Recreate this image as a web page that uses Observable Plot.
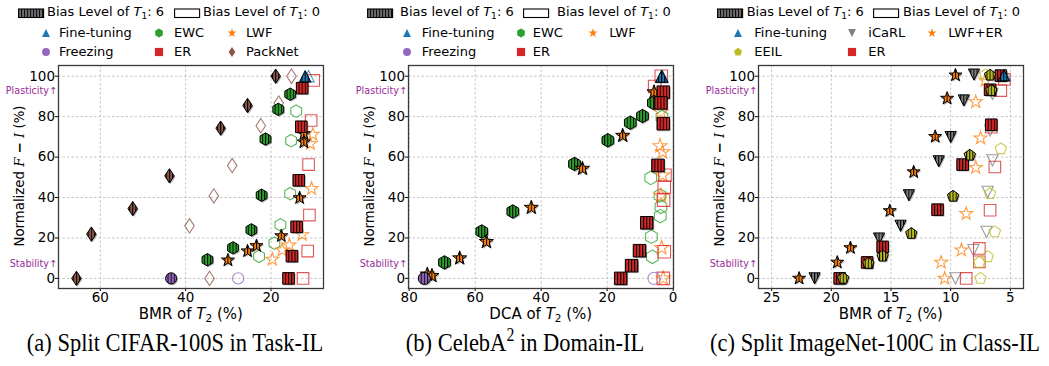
<!DOCTYPE html>
<html><head><meta charset="utf-8">
<script src="https://cdn.jsdelivr.net/npm/d3@7"></script>
<script src="https://cdn.jsdelivr.net/npm/@observablehq/plot@0.6"></script>
<style>
html,body{margin:0;padding:0;background:#fff;}
body{width:1049px;height:366px;overflow:hidden;position:relative;font-family:"DejaVu Sans",sans-serif;color:#000;}
.abs{position:absolute;white-space:nowrap;}
.leg{font-size:13px;height:16px;line-height:16px;}
.cap{font-family:"Liberation Serif",serif;font-size:22.5px;line-height:26px;transform-origin:50% 80%;transform:translateX(-50%) scaleY(1.15);}
.xl{font-size:15px;line-height:16px;height:16px;transform:translateX(-50%);}
.yl{font-size:13.3px;line-height:16px;transform:translate(-50%,-50%) rotate(-90deg);}
sub{font-size:70%;vertical-align:-0.3em;line-height:0;}
sup{font-size:70%;vertical-align:0.55em;line-height:0;}
.cal{font-family:"DejaVu Serif",serif;font-style:italic;}
</style></head><body>
<script>
// ---------------- data ----------------
// each point: [x value of T2 (%), normalized F − I (%)]; _6 = bias level 6 (filled), _0 = bias level 0 (hollow)
const yTicks = [0, 20, 40, 60, 80, 100];

// (a) Split CIFAR-100S in Task-IL, x = BMR of T2 (%)
const a_xTicks = [60, 40, 20];
const a_finetune_6 = [[12.0,100]];
const a_finetune_0 = [[11.2,100]];
const a_freezing_6 = [[43.4,0]];
const a_freezing_0 = [[27.7,0]];
const a_ewc_6 = [[15.5,91.1],[18.3,83.6],[21.3,68.9],[22.2,41.1],[24.6,24],[28.9,15.1],[34.9,9.2]];
const a_ewc_0 = [[14.1,82.7],[15.3,68.1],[15.5,41.9],[17.8,26.5],[19.2,17.4],[22.8,10.9]];
const a_lwf_6 = [[12.3,71.5],[12.3,67.4],[13.3,39.8],[17.6,21],[23.4,16.1],[25.5,13.5],[30.1,9]];
const a_lwf_0 = [[10.2,71.2],[10.8,66.6],[10.5,44.4],[12.7,21.7],[15.7,16.4],[17.4,14],[19.7,9.4]];
const a_er_6 = [[12.7,94.1],[12.9,75],[13.5,48.5],[14,25.5],[15.1,11],[15.9,0]];
const a_er_0 = [[10,97.9],[10.6,78.1],[11.2,56.3],[11,31.3],[11.4,13.5],[12.5,0]];
const a_packnet_6 = [[18.9,100],[25.5,85.5],[31.8,74.3],[43.8,50.7],[52.4,34.5],[62.1,21.9],[65.6,0]];
const a_packnet_0 = [[15.2,100],[18.2,86.7],[22.4,75.5],[29.1,55.8],[33.4,40.8],[39.1,26],[34.4,0]];

// (b) CelebA^2 in Domain-IL, x = DCA of T2 (%)
const b_xTicks = [80, 60, 40, 20, 0];
const b_finetune_6 = [[3.5,100]];
const b_finetune_0 = [[3.3,100]];
const b_freezing_6 = [[75.4,0]];
const b_freezing_0 = [[5.8,0]];
const b_ewc_6 = [[69.3,7.9],[58,23.2],[48.6,33.1],[29.9,56.6],[19.8,68.3],[13,77],[9.3,80.3],[6,86.8]];
const b_ewc_0 = [[3.4,79.8],[6.8,49.7],[4,41],[3.7,35.4],[3.9,30.8],[6.6,20.6],[6.3,10.7]];
const b_lwf_6 = [[74.5,2],[73.1,1.3],[64.7,10],[56.6,18.1],[43,35],[27.5,54.3],[15.3,70.6],[5.8,92.1]];
const b_lwf_0 = [[3.7,82.2],[4,65.5],[3.2,62.5],[3.2,51],[3.7,41],[3.5,15.1],[3,0]];
const b_er_6 = [[3,92.1],[3.7,86.8],[3,76.5],[4.6,55.9],[8,27.5],[10.2,13.7],[12.6,6.3],[15.9,0]];
const b_er_0 = [[3.6,100],[5.6,94.9],[2.5,51],[2.7,45.2],[2.9,38.7],[2.7,13.2],[3,0]];

// (c) Split ImageNet-100C in Class-IL, x = BMR of T2 (%)
const c_xTicks = [25, 20, 15, 10, 5];
const c_finetune_6 = [[5.55,100.5]];
const c_finetune_0 = [[5.45,100.5]];
const c_icarl_6 = [[21.4,0],[16,19.7],[14.2,26],[13.5,41.1],[11,57.9],[10,69.9],[8.9,88],[8.05,100.8]];
const c_icarl_0 = [[9.6,0],[8.1,14],[7,23],[6.9,42.8],[6.5,58.4],[6.7,73.2],[6.5,91.3]];
const c_lwfer_6 = [[22.7,0],[19.5,7.9],[18.4,15.1],[15.1,33.4],[13.1,52.6],[11.3,70.1],[10.3,89],[9.6,100.5]];
const c_lwfer_0 = [[10.5,0],[10.8,7.9],[9.1,14],[8.7,32],[7.9,54.8],[7.5,69.4],[7.9,87.3],[7.1,97.9]];
const c_eeil_6 = [[19,0],[16.9,7.4],[15.7,11],[13.3,22.2],[9.8,40.6],[8.4,60.9],[6.6,92.9],[6.7,100.5]];
const c_eeil_0 = [[7.5,0],[7.6,7.9],[6.9,10.7],[6.3,23],[6.7,41.9],[5.8,64.1],[7.1,100.7]];
const c_er_6 = [[19.3,0],[17,7.9],[15.7,15.6],[11.1,34],[9,56.3],[6.6,76],[6.7,93.3],[5.8,100.3]];
const c_er_0 = [[8.7,0],[7.6,14.8],[7.6,8.2],[6.7,33.7],[6.3,55.1],[6.6,74.8],[5.8,92.9],[5.5,98.4]];

// side annotations (y positions)
const annY = [92.6, 7.4];
const annText = ["Plasticity\u2191", "Stability\u2191"];

// ---------------- styling helpers ----------------
const COL = {blue:"#1f77b4", green:"#2ca02c", orange:"#ff7f0e", purple:"#9467bd",
             red:"#d62728", brown:"#8c564b", gray:"#7f7f7f", olive:"#bcbd22"};
const rad = s => Math.sqrt(s / Math.PI);
function poly(ctx, pts){ ctx.moveTo(pts[0][0], pts[0][1]); for (let i=1;i<pts.length;i++) ctx.lineTo(pts[i][0], pts[i][1]); ctx.closePath(); }
function ngon(r, n, a0){ const p=[]; for (let i=0;i<n;i++){ const a=a0+2*Math.PI*i/n; p.push([r*Math.cos(a), r*Math.sin(a)]); } return p; }
const SYM = {
  square: {draw(c,s){ const r=rad(s)*0.95; poly(c,[[-r,-r],[r,-r],[r,r],[-r,r]]); }},
  circle: {draw(c,s){ const r=rad(s)*0.92; c.moveTo(r,0); c.arc(0,0,r,0,2*Math.PI); c.closePath(); }},
  hexagon:{draw(c,s){ poly(c, ngon(rad(s)*1.02, 6, -Math.PI/2)); }},
  pentagon:{draw(c,s){ poly(c, ngon(rad(s)*0.98, 5, -Math.PI/2)); }},
  star:   {draw(c,s){ const R=rad(s)*1.12, r=R*0.40, p=[]; for(let i=0;i<10;i++){ const a=-Math.PI/2+Math.PI*i/5, q=i%2?r:R; p.push([q*Math.cos(a), q*Math.sin(a)]); } poly(c,p); }},
  triUp:  {draw(c,s){ const r=rad(s)*0.92; poly(c,[[0,-r],[r,r],[-r,r]]); }},
  triDown:{draw(c,s){ const r=rad(s)*0.92; poly(c,[[0,r],[r,-r],[-r,-r]]); }},
  diamond:{draw(c,s){ const r=rad(s); poly(c,[[0,-1.18*r],[0.78*r,0],[0,1.18*r],[-0.78*r,0]]); }}
};

// hatch patterns ( ||| ) shared by all panels
const defsSvg = d3.select("body").append("svg").attr("width",0).attr("height",0)
  .style("position","absolute").style("left","0").style("top","0");
const defs = defsSvg.append("defs");
for (const [k,c] of Object.entries(COL)) {
  const p = defs.append("pattern").attr("id","h-"+k).attr("patternUnits","userSpaceOnUse")
    .attr("x",-0.5).attr("width",3.1).attr("height",20);
  p.append("rect").attr("width",3.1).attr("height",20).attr("fill",c);
  p.append("rect").attr("x",0).attr("width",1).attr("height",20).attr("fill","#000");
}
{
  const p = defs.append("pattern").attr("id","h-swatch").attr("patternUnits","userSpaceOnUse")
    .attr("width",3).attr("height",20);
  p.append("rect").attr("width",3).attr("height",20).attr("fill","#6e6e6e");
  p.append("rect").attr("x",0).attr("width",1.1).attr("height",20).attr("fill","#111");
}

// ---------------- panels ----------------
const panels = [
  { left:0, domain:[69.8,7.7], ticks:a_xTicks, xName:"BMR", r:6.1, lower:false,
    caption:"(a) Split CIFAR-100S in Task-IL", capX:175,
    series:[
      {name:"Fine-tuning", col:"blue",   sym:"triUp",   on:a_finetune_6, off:a_finetune_0},
      {name:"EWC",         col:"green",  sym:"hexagon", on:a_ewc_6,      off:a_ewc_0},
      {name:"LWF",         col:"orange", sym:"star",    on:a_lwf_6,      off:a_lwf_0},
      {name:"Freezing",    col:"purple", sym:"circle",  on:a_freezing_6, off:a_freezing_0},
      {name:"ER",          col:"red",    sym:"square",  on:a_er_6,       off:a_er_0},
      {name:"PackNet",     col:"brown",  sym:"diamond", on:a_packnet_6,  off:a_packnet_0}],
    order:["EWC","LWF","ER","PackNet","Freezing","Fine-tuning"],
    legCols:[[46,59],[158.5,174],[232,246]], sw:[18,47,174,203] },
  { left:350, domain:[80.2,-0.1], ticks:b_xTicks, xName:"DCA", r:6.6, lower:true,
    caption:"(b) CelebA<sup>2</sup> in Domain-IL", capX:525,
    series:[
      {name:"Fine-tuning", col:"blue",   sym:"triUp",   on:b_finetune_6, off:b_finetune_0},
      {name:"EWC",         col:"green",  sym:"hexagon", on:b_ewc_6,      off:b_ewc_0},
      {name:"LWF",         col:"orange", sym:"star",    on:b_lwf_6,      off:b_lwf_0},
      {name:"Freezing",    col:"purple", sym:"circle",  on:b_freezing_6, off:b_freezing_0},
      {name:"ER",          col:"red",    sym:"square",  on:b_er_6,       off:b_er_0}],
    order:["EWC","LWF","ER","Freezing","Fine-tuning"],
    legCols:[[56.7,71.7],[170.7,182.7],[242.7,259.3]], sw:[17,50,173,207] },
  { left:700, domain:[26.1,3.9], ticks:c_xTicks, xName:"BMR", r:6.1, lower:false,
    caption:"(c) Split ImageNet-100C in Class-IL", capX:875,
    series:[
      {name:"Fine-tuning", col:"blue",   sym:"triUp",   on:c_finetune_6, off:c_finetune_0},
      {name:"iCaRL",       col:"gray",   sym:"triDown", on:c_icarl_6,    off:c_icarl_0},
      {name:"LWF+ER",      col:"orange", sym:"star",    on:c_lwfer_6,    off:c_lwfer_0},
      {name:"EEIL",        col:"olive",  sym:"pentagon",on:c_eeil_6,     off:c_eeil_0},
      {name:"ER",          col:"red",    sym:"square",  on:c_er_6,       off:c_er_0}],
    order:["LWF+ER","iCaRL","ER","EEIL","Fine-tuning"],
    legCols:[[38.3,54.3],[152.3,168.3],[232.3,248.3]], sw:[17,46.7,173,203] }
];

const SVG_TOP = 58, SVG_H = 265;
const body = d3.select("body");
function place(html, cls, left, top){ return body.append("div").attr("class","abs "+cls).style("left",left+"px").style("top",top+"px").html(html); }

for (const P of panels) {
  const byName = Object.fromEntries(P.series.map(s => [s.name, s]));
  const ordered = P.order.map(n => byName[n]);
  const X = d => d[0], Y = d => d[1];
  const marks = [
    Plot.ruleX(P.ticks, {stroke:"#b9b9b9", strokeWidth:0.8, strokeDasharray:"2.5,2"}),
    Plot.ruleY(yTicks, {stroke:"#b9b9b9", strokeWidth:0.8, strokeDasharray:"2.5,2"})
  ];
  // hollow markers: bias level 0
  for (const s of ordered) marks.push(Plot.dot(s.off, {x:X, y:Y, symbol:SYM[s.sym], r:P.r,
      fill:"none", stroke:COL[s.col], strokeWidth:1.1, strokeOpacity:0.78}));
  // shadows of filled markers
  for (const s of ordered) marks.push(Plot.dot(s.on, {x:X, y:Y, symbol:SYM[s.sym], r:P.r,
      fill:"#000", fillOpacity:0.28, stroke:"none", dx:1.2, dy:1.2}));
  // hatched filled markers: bias level 6
  for (const s of ordered) marks.push(Plot.dot(s.on, {x:X, y:Y, symbol:SYM[s.sym], r:P.r,
      fill:`url(#h-${s.col})`, stroke:"#000", strokeWidth:1}));
  marks.push(Plot.text(annText.map((t,i)=>({t, y:annY[i]})), {y:"y", text:"t", frameAnchor:"left",
      textAnchor:"end", dx:-1.5, fill:"#982a98", fontSize:9.6}));
  marks.push(Plot.frame({stroke:"#3a3a3a", strokeWidth:1.3}));

  const svg = Plot.plot({
    width:350, height:SVG_H,
    marginLeft:58, marginRight:27, marginTop:7, marginBottom:SVG_H-7-223,
    style:{fontFamily:"DejaVu Sans", fontSize:"13.5px", color:"#000", background:"transparent", overflow:"visible"},
    x:{domain:P.domain, ticks:P.ticks, tickSize:3, tickPadding:0.5, label:null, tickFormat:d=>String(d)},
    y:{domain:[-5,105.3], ticks:yTicks, tickSize:3, tickPadding:0.5, label:null, tickFormat:d=>String(d)},
    marks
  });
  d3.select(svg).style("position","absolute").style("left",P.left+"px").style("top",SVG_TOP+"px");
  document.body.appendChild(svg);

  // axis titles
  place(`${P.xName} of <i>T</i><sub>2</sub> (%)`, "xl", P.left+190.8, 305.5);
  place(`Normalized <span class="cal">F</span> <b>\u2212</b> <span class="cal">I</span> (%)`, "yl", P.left+20, 176);
  // caption
  place(P.caption, "cap", P.capX, 331);

  // legend row 1: bias swatches
  const lvl = P.lower ? "level" : "Level";
  const sw = P.sw;
  const sv1 = body.append("svg").attr("class","abs").style("left",(P.left+sw[0])+"px").style("top","8px").attr("width",27).attr("height",11);
  sv1.append("rect").attr("x",0.6).attr("y",1).attr("width",25).attr("height",8.5).attr("fill","url(#h-swatch)").attr("stroke","#000").attr("stroke-width",1.1);
  place(`Bias ${lvl} of <i>T</i><sub>1</sub>: 6`, "leg", P.left+sw[1], 4);
  const sv2 = body.append("svg").attr("class","abs").style("left",(P.left+sw[2])+"px").style("top","8px").attr("width",27).attr("height",11);
  sv2.append("rect").attr("x",0.6).attr("y",1).attr("width",25).attr("height",8.5).attr("fill","#fff").attr("stroke","#000").attr("stroke-width",1.1);
  place(`Bias ${lvl} of <i>T</i><sub>1</sub>: 0`, "leg", P.left+sw[3], 4);

  // legend rows 2-3: methods, filled row by row (3 per row)
  P.series.forEach((s, i) => {
    const row = Math.floor(i / 3), colI = i % 3;
    const cy = row === 0 ? 32.5 : 52;
    const [mx, tx] = P.legCols[colI];
    const g = body.append("svg").attr("class","abs").style("left",(P.left+mx-8)+"px").style("top",(cy-8)+"px").attr("width",16).attr("height",16);
    const path = d3.path(); SYM[s.sym].draw(path, Math.PI*4.3*4.3);
    g.append("path").attr("transform","translate(8,8)").attr("d", path.toString()).attr("fill", COL[s.col]);
    place(s.name, "leg", P.left+tx, cy-8);
  });
}
</script>
</body></html>
